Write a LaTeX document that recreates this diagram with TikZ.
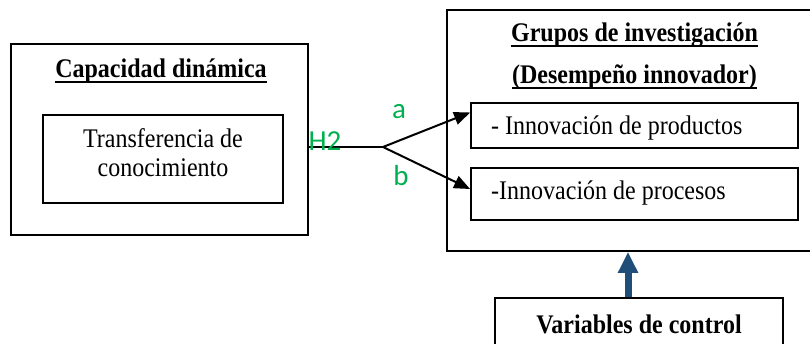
\documentclass[tikz,border=0pt]{standalone}
\usepackage{fontspec}
\usepackage{graphicx}
\setmainfont{Liberation Serif}
\newfontfamily\labelfont{Carlito}
\usetikzlibrary{arrows.meta}

\definecolor{hgreen}{HTML}{00B050}
\definecolor{ctrlblue}{HTML}{1F4E79}

% text in this figure is set slightly taller than wide
\newcommand\tallt[1]{\scalebox{1}[1.12]{#1}}
% heading underline at a fixed distance below the baseline
\newcommand\ulin[1]{{\setbox0\hbox{#1}\rlap{\raisebox{-4.6pt}{\rule{\wd0}{1.7pt}}}\box0}}

\tikzset{
  box/.style={draw=black, line width=1.8pt, inner sep=0pt},
  body/.style={inner sep=0pt, font=\fontsize{24}{26.9}\selectfont},
  heading/.style={body, font=\fontsize{24}{26.9}\selectfont\bfseries},
  glabel/.style={inner sep=0pt, text=hgreen, font=\labelfont\fontsize{29}{32}\selectfont},
  link/.style={line width=2pt, draw=black},
  linkarrow/.style={link, -{Triangle[length=16pt,width=13pt]}},
  ctrlarrow/.style={line width=7pt, draw=ctrlblue, -{Triangle[length=21pt,width=19pt]}},
}

\begin{document}
\begin{tikzpicture}[x=1pt,y=-1pt]
\useasboundingbox (0,0) rectangle (810,344);
\clip (0,0) rectangle (810,344);

% left block: dynamic capability
\node[box, minimum width=297pt, minimum height=191pt] (cap) at (159.5,139.5) {};
\node[heading, anchor=base] (captitle) at (161,78) {\tallt{\ulin{Capacidad dinámica}}};
\node[box, minimum width=240pt, minimum height=88pt] (tk) at (163,159) {};
\node[body, anchor=base] (tk1) at (163,148) {\tallt{Transferencia de}};
\node[body, anchor=base] (tk2) at (163,177) {\tallt{conocimiento}};

% right block: research groups
\node[box, minimum width=375pt, minimum height=241pt] (grp) at (634.5,130.5) {};
\node[heading, anchor=base] (grptitle) at (634.5,42) {\tallt{\ulin{Grupos de investigación}}};
\node[heading, anchor=base] (grpsub) at (634.5,84) {\tallt{\ulin{(Desempeño innovador)}}};
\node[box, minimum width=327pt, minimum height=45pt] (prod) at (634.5,125.5) {};
\node[body, anchor=base west] (prodtext) at (491,135) {\tallt{- Innovación de productos}};
\node[box, minimum width=327pt, minimum height=52pt] (proc) at (634.5,194) {};
\node[body, anchor=base west] (proctext) at (491,200) {\tallt{-Innovación de procesos}};

% control variables
\node[box, minimum width=288pt, minimum height=52pt] (ctrl) at (639,324) {};
\node[heading, anchor=base] (ctrltext) at (639,333) {\tallt{Variables de control}};

% hypothesis H2 branching into a and b
\coordinate (br) at (383,147);
\draw[link] (br -| cap.east) -- (br);
\draw[linkarrow] (br) -- ([yshift=13pt]prod.west);
\draw[linkarrow] (br) -- ([yshift=5pt]proc.west);
\node[glabel] (h2) at (325,141) {H2};
\node[glabel] (la) at (399,111.5) {a};
\node[glabel] (lb) at (401,176) {b};

% control variables act on the research groups
\draw[ctrlarrow] ([xshift=-11pt]ctrl.north) coordinate (cfoot) -- (cfoot |- grp.south);
\end{tikzpicture}
\end{document}
